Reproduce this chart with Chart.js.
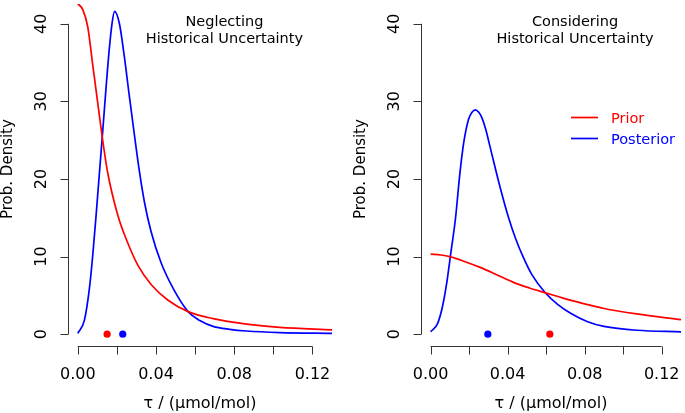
<!DOCTYPE html>
<html>
<head>
<meta charset="utf-8">
<script src="https://cdn.jsdelivr.net/npm/chart.js@4.4.1/dist/chart.umd.min.js"></script>
<style>
  body { margin: 0; background: #fff; }
  .panel { position: absolute; top: 0; }
</style>
</head>
<body>
<div class="panel" style="left:0"><canvas id="leftChart" width="342" height="413"></canvas></div>
<div class="panel" style="left:342px"><canvas id="rightChart" width="343" height="413"></canvas></div>
<script>
// Neglecting historical uncertainty
const leftPriorX = [0, 0.0026, 0.0051, 0.0077, 0.0102, 0.0124, 0.0153, 0.0205, 0.0247, 0.0307, 0.0375, 0.0460, 0.0564, 0.0692, 0.0863, 0.1033, 0.1300];
const leftPriorY = [42.6, 41.8, 39.6, 34.6, 29.8, 25.6, 20.8, 15.3, 12.3, 8.9, 6.4, 4.4, 2.9, 2.0, 1.3, 0.87, 0.56];
const leftPostX = [0, 0.0034, 0.0060, 0.0077, 0.0094, 0.0111, 0.0124, 0.0145, 0.0162, 0.0175, 0.0188, 0.0213, 0.0239, 0.0264, 0.0290, 0.0315, 0.0341, 0.0375, 0.0426, 0.0494, 0.0564, 0.0624, 0.0692, 0.0777, 0.0863, 0.1033, 0.1300];
const leftPostY = [0.1, 1.8, 6.0, 10.3, 15.4, 20.9, 25.0, 31.9, 37.0, 40.0, 41.6, 40.0, 35.6, 30.6, 25.6, 21.0, 17.0, 13.2, 9.2, 5.6, 2.9, 1.75, 1.0, 0.62, 0.4, 0.2, 0.1];
const leftModes = [0.0150, 0.0230]; // prior, posterior

// Considering historical uncertainty
const rightPriorX = [0, 0.0053, 0.0104, 0.0172, 0.0257, 0.0348, 0.0427, 0.0513, 0.0593, 0.0661, 0.0729, 0.0815, 0.0900, 0.1070, 0.1300];
const rightPriorY = [10.3, 10.2, 9.95, 9.4, 8.6, 7.6, 6.7, 5.95, 5.35, 4.85, 4.35, 3.8, 3.3, 2.6, 1.87];
const rightPostX = [0, 0.0036, 0.0061, 0.0083, 0.0104, 0.0129, 0.0151, 0.0172, 0.0197, 0.0215, 0.0232, 0.0250, 0.0266, 0.0286, 0.0308, 0.0360, 0.0406, 0.0440, 0.0482, 0.0525, 0.0593, 0.0661, 0.0729, 0.0815, 0.0900, 0.1070, 0.1300];
const rightPostY = [0.3, 1.36, 3.5, 6.5, 10.3, 14.9, 20.5, 24.7, 27.7, 28.6, 28.9, 28.6, 27.9, 26.4, 24.2, 19.0, 14.9, 12.4, 9.85, 7.7, 5.4, 3.8, 2.65, 1.6, 1.0, 0.5, 0.3];
const rightModes = [0.0619, 0.0297];

const xTicks = [0, 0.02, 0.04, 0.06, 0.08, 0.10, 0.12];
const xTickLabels = ['0.00', '', '0.04', '', '0.08', '', '0.12'];
const yTicks = [0, 10, 20, 30, 40];
const seriesNames = ['Prior', 'Posterior'];
const seriesColors = ['#ff0000', '#0000ff'];

const FONT = '"DejaVu Sans", sans-serif';

function toPoints(xs, ys) {
    return xs.map((x, i) => ({ x: x, y: ys[i] }));
}

function curve(xs, ys, color) {
    return {
        data: toPoints(xs, ys),
        showLine: true,
        borderColor: color,
        borderWidth: 1.7,
        pointRadius: 0,
        cubicInterpolationMode: 'monotone'
    };
}

function modeDot(x, color) {
    return {
        data: [{ x: x, y: 0 }],
        showLine: false,
        pointRadius: 3.6,
        pointBackgroundColor: color,
        pointBorderWidth: 0
    };
}

// base-R style axes, titles and legend
function rAxes(title, opts) {
    return {
        id: 'rAxes',
        afterDraw(chart) {
            const ctx = chart.ctx;
            const xs = chart.scales.x, ys = chart.scales.y;
            const area = chart.chartArea;
            ctx.save();
            ctx.strokeStyle = '#333';
            ctx.lineWidth = 1;
            ctx.fillStyle = '#000';

            // x axis
            const ay = Math.round(area.bottom) + 0.5;
            ctx.beginPath();
            ctx.moveTo(xs.getPixelForValue(xTicks[0]), ay);
            ctx.lineTo(xs.getPixelForValue(xTicks[xTicks.length - 1]), ay);
            xTicks.forEach(t => {
                const px = Math.round(xs.getPixelForValue(t)) + 0.5;
                ctx.moveTo(px, ay);
                ctx.lineTo(px, ay + 8);
            });
            ctx.stroke();
            ctx.font = '16px ' + FONT;
            ctx.textAlign = 'center';
            ctx.textBaseline = 'alphabetic';
            xTicks.forEach((t, i) => {
                if (xTickLabels[i]) ctx.fillText(xTickLabels[i], xs.getPixelForValue(t), 379);
            });
            ctx.fillText('τ / (μmol/mol)', (area.left + area.right) / 2, 408);

            // y axis
            const ax = Math.round(area.left) + 0.5;
            ctx.beginPath();
            ctx.moveTo(ax, ys.getPixelForValue(yTicks[0]));
            ctx.lineTo(ax, ys.getPixelForValue(yTicks[yTicks.length - 1]));
            yTicks.forEach(t => {
                const py = Math.round(ys.getPixelForValue(t)) + 0.5;
                ctx.moveTo(ax, py);
                ctx.lineTo(ax - 8, py);
            });
            ctx.stroke();
            yTicks.forEach(t => {
                ctx.save();
                ctx.translate(area.left - 22, ys.getPixelForValue(t));
                ctx.rotate(-Math.PI / 2);
                ctx.fillText(String(t), 0, 0);
                ctx.restore();
            });
            ctx.save();
            ctx.font = '15px ' + FONT;
            ctx.translate(area.left - 56, (ys.getPixelForValue(0) + area.top) / 2);
            ctx.rotate(-Math.PI / 2);
            ctx.fillText('Prob. Density', 0, 0);
            ctx.restore();

            // panel title
            ctx.font = '14.5px ' + FONT;
            const tx = xs.getPixelForValue(0.075);
            ctx.fillText(title[0], tx, 26);
            ctx.fillText(title[1], tx, 43);

            // legend
            if (opts.legend) {
                ctx.textAlign = 'left';
                seriesNames.forEach((name, i) => {
                    const ly = 117.5 + i * 21;
                    ctx.strokeStyle = seriesColors[i];
                    ctx.lineWidth = 1.7;
                    ctx.beginPath();
                    ctx.moveTo(opts.legend.x, ly);
                    ctx.lineTo(opts.legend.x + 27, ly);
                    ctx.stroke();
                    ctx.fillStyle = seriesColors[i];
                    ctx.fillText(name, opts.legend.x + 40, ly + 5.5);
                });
            }
            ctx.restore();
        }
    };
}

function makePanel(id, datasets, padLeft, padRight, title, opts) {
    return new Chart(document.getElementById(id), {
        type: 'scatter',
        data: { datasets: datasets },
        options: {
            responsive: false,
            animation: false,
            layout: { padding: { left: padLeft, right: padRight, top: 0, bottom: 67 } },
            plugins: { legend: { display: false }, tooltip: { enabled: false } },
            scales: {
                x: { type: 'linear', min: -0.005, max: 0.13, display: false },
                y: { type: 'linear', min: -1.53, max: 42.55, display: false }
            }
        },
        plugins: [rAxes(title, opts)]
    });
}

makePanel('leftChart', [
    curve(leftPriorX, leftPriorY, seriesColors[0]),
    curve(leftPostX, leftPostY, seriesColors[1]),
    modeDot(leftModes[0], seriesColors[0]),
    modeDot(leftModes[1], seriesColors[1])
], 68, 10, ['Neglecting', 'Historical Uncertainty'], {});

makePanel('rightChart', [
    curve(rightPriorX, rightPriorY, seriesColors[0]),
    curve(rightPostX, rightPostY, seriesColors[1]),
    modeDot(rightModes[0], seriesColors[0]),
    modeDot(rightModes[1], seriesColors[1])
], 79, 0, ['Considering', 'Historical Uncertainty'], { legend: { x: 229 } });
</script>
</body>
</html>
